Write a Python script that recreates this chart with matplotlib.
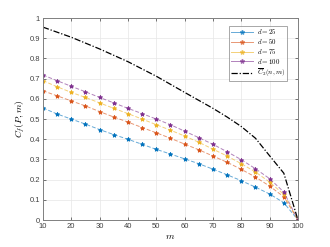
import matplotlib
matplotlib.use("Agg")
import matplotlib.pyplot as plt

plt.rcParams["font.family"] = ["Liberation Sans", "DejaVu Sans"]
plt.rcParams["mathtext.fontset"] = "cm"

m = [10, 15, 20, 25, 30, 35, 40, 45, 50, 55, 60, 65, 70, 75, 80, 85, 90, 95, 100]
d25 = [0.555, 0.525, 0.500, 0.475, 0.448, 0.423, 0.400, 0.375, 0.350, 0.327,
       0.303, 0.279, 0.252, 0.224, 0.195, 0.163, 0.129, 0.086, 0.0]
d50 = [0.640, 0.615, 0.590, 0.565, 0.537, 0.510, 0.485, 0.458, 0.432, 0.405,
       0.376, 0.348, 0.317, 0.286, 0.251, 0.213, 0.168, 0.115, 0.0]
d75 = [0.690, 0.660, 0.632, 0.607, 0.580, 0.553, 0.527, 0.500, 0.472, 0.445,
       0.416, 0.385, 0.351, 0.317, 0.279, 0.238, 0.188, 0.127, 0.0]
d100 = [0.718, 0.690, 0.662, 0.635, 0.607, 0.580, 0.553, 0.527, 0.500, 0.472,
        0.440, 0.408, 0.375, 0.338, 0.299, 0.254, 0.205, 0.139, 0.0]

m_bound = [10, 20, 30, 40, 50, 60, 70, 75, 80, 85, 90, 95, 100]
c2_bound = [0.955, 0.905, 0.847, 0.784, 0.712, 0.632, 0.553, 0.51, 0.463, 0.405, 0.318, 0.232, 0.0]

series = [
    (d25, "$d = 25$", "#0072BD"),
    (d50, "$d = 50$", "#D95319"),
    (d75, "$d = 75$", "#EDB120"),
    (d100, "$d = 100$", "#7E2F8E"),
]

fig = plt.figure(figsize=(3.3, 2.47), dpi=100)
ax = fig.add_axes([0.13, 0.109, 0.773, 0.818])

for vals, lab, col in series:
    ax.plot(m, vals, linestyle=(0, (4, 2)), color=col, alpha=0.6, lw=0.7)
    ax.plot(m, vals, linestyle="none", marker="*", ms=3.2, color=col,
            markeredgewidth=0.6)
    ax.plot([], [], linestyle="-", marker="*", ms=3.2, color=col, lw=0.7,
            alpha=0.6, label=lab)

ax.plot(m_bound, c2_bound, color="black", lw=0.9, linestyle=(0, (5, 1.5, 1, 1.5)),
        label=r"$\overline{C}_2(n,m)$")

ax.set_xlim(10, 100)
ax.set_ylim(0, 1)
ax.set_xticks(range(10, 101, 10))
ax.set_yticks([0, 0.1, 0.2, 0.3, 0.4, 0.5, 0.6, 0.7, 0.8, 0.9, 1])
ax.set_yticklabels(["0", "0.1", "0.2", "0.3", "0.4", "0.5", "0.6", "0.7", "0.8", "0.9", "1"])
ax.grid(True, color="#e6e6e6", lw=0.5)
ax.set_axisbelow(True)
ax.tick_params(labelsize=5.5, colors="#404040", length=2, width=0.5,
               direction="in", top=True, right=True, pad=2)
for s in ax.spines.values():
    s.set_color("#808080")
    s.set_linewidth(0.7)

ax.set_xlabel("$m$", fontsize=7, labelpad=1)
ax.set_ylabel("$C_f(P,m)$", fontsize=7, labelpad=2)

leg = ax.legend(loc="upper right", fontsize=5, frameon=True, fancybox=False,
                edgecolor="#808080", handlelength=3.2, borderpad=0.25,
                labelspacing=0.12, handletextpad=0.5, borderaxespad=0.5,
                bbox_to_anchor=(0.97, 0.98))
leg.get_frame().set_linewidth(0.6)

fig.savefig("out.png", dpi=100)
